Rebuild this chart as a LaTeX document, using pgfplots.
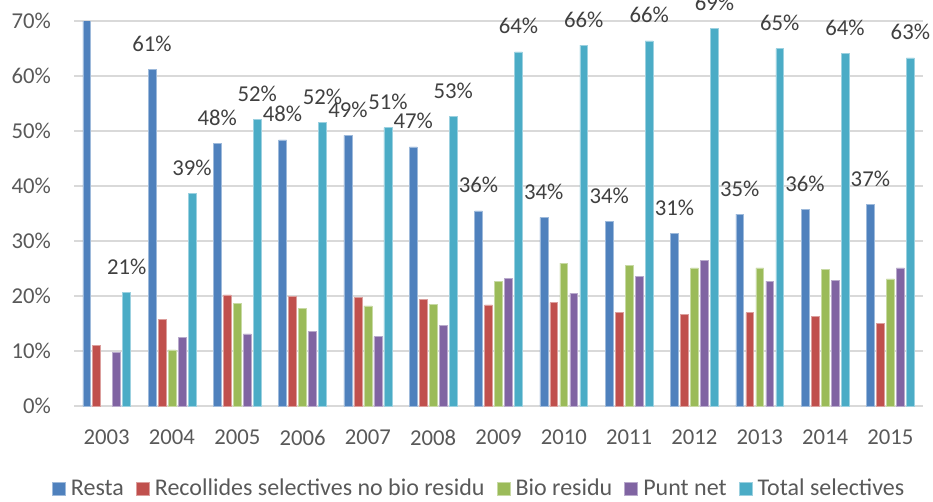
\documentclass[border=0pt]{standalone}
\usepackage{fontspec}
\setmainfont{Carlito}
\usepackage{pgfplots}
\pgfplotsset{compat=1.18}
\definecolor{cA}{HTML}{4F81BD}
\definecolor{cB}{HTML}{C0504D}
\definecolor{cC}{HTML}{9BBB59}
\definecolor{cD}{HTML}{8064A2}
\definecolor{cE}{HTML}{4BACC6}
\definecolor{gridc}{HTML}{D9D9D9}
\definecolor{lbl}{HTML}{404040}
\definecolor{tck}{HTML}{595959}
\newcommand{\fs}{\fontsize{22.7}{27}\selectfont}
\newcommand{\fl}{\fontsize{24}{28}\selectfont}
\begin{document}
\begin{tikzpicture}
\begin{axis}[
  at={(74pt,95pt)}, anchor=south west,
  width=849pt, height=385pt, scale only axis,
  xmin=-0.5, xmax=12.5, ymin=0, ymax=70,
  xtick={0,...,12},
  xticklabels={2003,2004,2005,2006,2007,2008,2009,2010,2011,2012,2013,2014,2015},
  ytick={0,10,...,70},
  yticklabels={0\%,10\%,20\%,30\%,40\%,50\%,60\%,70\%},
  ymajorgrids, major grid style={draw=gridc, line width=1.5pt},
  axis line style={draw=none},
  major tick length=0pt,
  tick label style={font=\fs, text=tck},
  yticklabel style={inner sep=0pt, xshift=-23pt},
  xticklabel style={inner sep=0pt, yshift=-23.5pt},
  bar width=0.12,
  legend columns=-1,
  legend style={at={(0.476,-0.214)}, anchor=center, draw=none, fill=none,
    font=\fl, text=tck, inner sep=0pt,
    nodes={inner sep=0pt},
    /tikz/every odd column/.append style={column sep=5.5pt},
    /tikz/every even column/.append style={column sep=12pt}},
  legend image code/.code={\fill[#1] (0pt,-6.5pt) rectangle (13pt,6.5pt);},
  every node near coord/.append style={font=\fs, text=lbl, anchor=base, yshift=18pt, inner sep=0pt},
]
\addplot[ybar, bar shift=-0.306, fill=cA, draw=cA!55!white, line width=0.5pt,
  point meta=explicit symbolic, nodes near coords,
  every node near coord/.append style={xshift=-20pt}]
  coordinates {(0,79.3)[\mbox{}] (1,61.2)[61\%] (2,47.7)[48\%] (3,48.4)[48\%] (4,49.2)[49\%]
   (5,47.1)[47\%] (6,35.5)[36\%] (7,34.3)[34\%] (8,33.6)[34\%] (9,31.4)[31\%]
   (10,34.9)[35\%] (11,35.7)[36\%] (12,36.6)[37\%]};
\addlegendentry{Resta}
\addplot[ybar, bar shift=-0.153, fill=cB, draw=cB!55!white, line width=0.5pt]
  coordinates {(0,11.0) (1,15.8) (2,20.2) (3,19.9) (4,19.7) (5,19.4) (6,18.4)
   (7,18.8) (8,17.0) (9,16.7) (10,17.0) (11,16.3) (12,15.0)};
\addlegendentry{Recollides selectives no bio residu}
\addplot[ybar, bar shift=0, fill=cC, draw=cC!55!white, line width=0.5pt]
  coordinates {(1,10.2) (2,18.7) (3,17.8) (4,18.2) (5,18.5) (6,22.6)
   (7,26.0) (8,25.6) (9,25.1) (10,25.1) (11,24.8) (12,23.1)};
\addlegendentry{Bio residu}
\addplot[ybar, bar shift=0.153, fill=cD, draw=cD!55!white, line width=0.5pt]
  coordinates {(0,9.7) (1,12.5) (2,13.1) (3,13.6) (4,12.6) (5,14.6) (6,23.2)
   (7,20.5) (8,23.6) (9,26.5) (10,22.7) (11,22.8) (12,25.1)};
\addlegendentry{Punt net}
\addplot[ybar, bar shift=0.306, fill=cE, draw=cE!55!white, line width=0.5pt,
  point meta=explicit symbolic, nodes near coords,
  every node near coord/.append style={xshift=20pt}]
  coordinates {(0,20.7)[21\%] (1,38.6)[39\%] (2,52.1)[52\%] (3,51.6)[52\%] (4,50.6)[51\%]
   (5,52.7)[53\%] (6,64.4)[64\%] (7,65.6)[66\%] (8,66.4)[66\%] (9,68.6)[69\%]
   (10,65.0)[65\%] (11,64.1)[64\%] (12,63.3)[63\%]};
\addlegendentry{Total selectives}
\end{axis}
\pgfresetboundingbox
\path[use as bounding box] (0,0) rectangle (933pt,501pt);
\end{tikzpicture}
\end{document}
